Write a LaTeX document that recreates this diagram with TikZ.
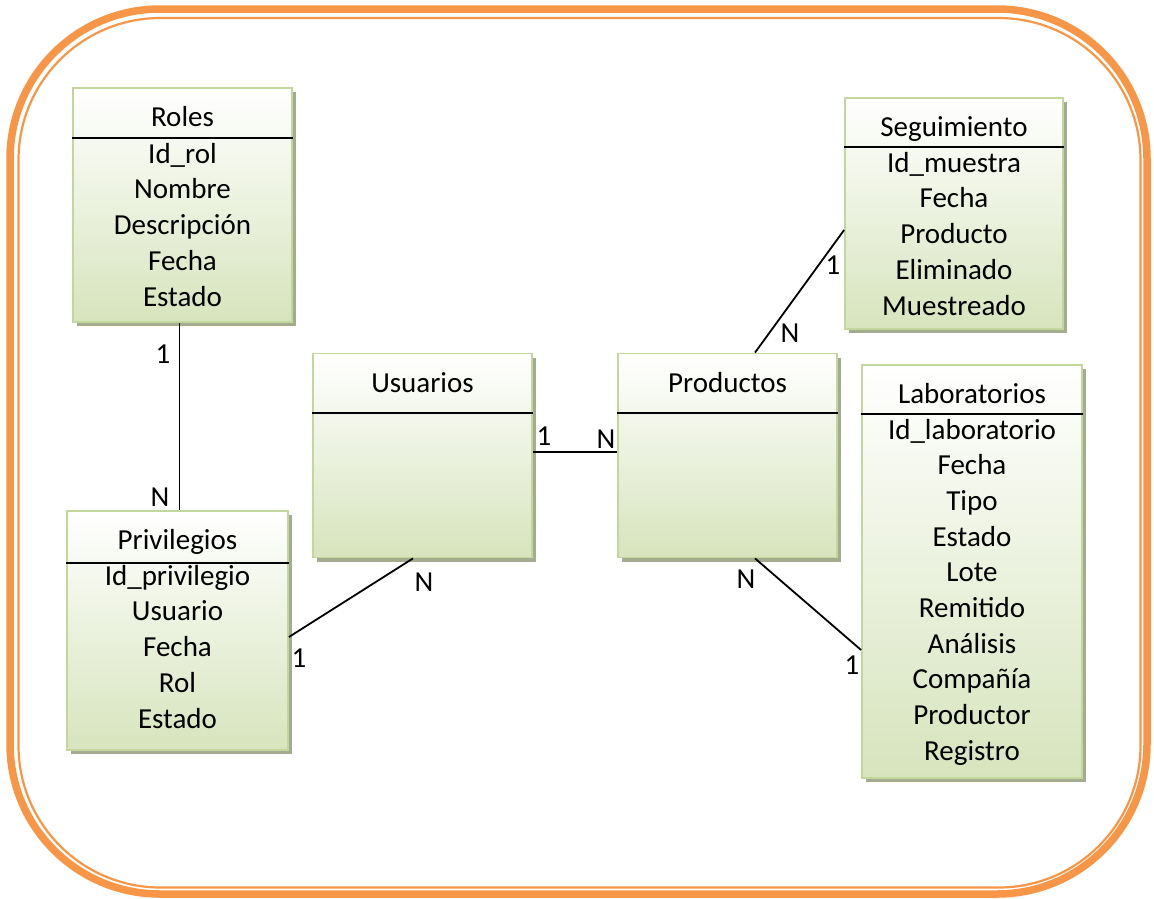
\documentclass[tikz,border=0pt]{standalone}
\usepackage{fontspec}
\setmainfont{Carlito}
\usetikzlibrary{shadows,calc}

\definecolor{frameorange}{HTML}{F79646}
\definecolor{entityedge}{HTML}{C3D69B}
\definecolor{entityfill}{HTML}{D7E4BD}
\definecolor{entityshadow}{HTML}{A3AC8E}

\tikzset{
  entity/.style={draw=entityedge, line width=1.8pt, top color=white,
    bottom color=entityfill, inner sep=0pt,
    drop shadow={shadow xshift=4pt, shadow yshift=-4pt, fill=entityshadow, opacity=1}},
  attr/.style={font=\fontsize{29}{35}\selectfont, anchor=base, inner sep=0pt},
  cardinality/.style={font=\fontsize{29}{35}\selectfont, inner sep=0pt},
  divider/.style={line width=1.9pt},
  rel/.style={line width=1.8pt},
  frameouter/.style={draw=frameorange, line width=7.5pt, rounded corners=150pt},
  frameinner/.style={draw=frameorange, line width=2.2pt, rounded corners=142pt}
}

\begin{document}
\begin{tikzpicture}[x=1pt, y=-1pt]
  \useasboundingbox (0,0) rectangle (1154,898);

  % double orange frame
  \draw[frameouter] (10,9) rectangle (1147,894);
  \draw[frameinner] (18.5,18) rectangle (1140.5,887.5);

  % entity boxes
  \node[entity, minimum width=219pt, minimum height=234pt] (roles) at (182.5,205) {};
  \node[entity, minimum width=218pt, minimum height=231pt] (seg)   at (954,213.5) {};
  \node[entity, minimum width=219pt, minimum height=204pt] (usu)   at (422.5,455.5) {};
  \node[entity, minimum width=219pt, minimum height=204pt] (prod)  at (727.5,455.5) {};
  \node[entity, minimum width=221pt, minimum height=239pt] (priv)  at (177.5,630.5) {};
  \node[entity, minimum width=220pt, minimum height=413pt] (lab)   at (972,571.5) {};

  % title dividers
  \draw[divider] (roles.west |- 0,138) -- (roles.east |- 0,138);
  \draw[divider] (seg.west |- 0,147) -- (seg.east |- 0,147);
  \draw[divider] (usu.west |- 0,413) -- (usu.east |- 0,413);
  \draw[divider] (prod.west |- 0,413) -- (prod.east |- 0,413);
  \draw[divider] (priv.west |- 0,563) -- (priv.east |- 0,563);
  \draw[divider] (lab.west |- 0,414) -- (lab.east |- 0,414);

  % titles
  \node[attr] (roles-title) at (182.5,126) {Roles};
  \node[attr] (seg-title)   at (954,136)   {Seguimiento};
  \node[attr] (usu-title)   at (422.5,392) {Usuarios};
  \node[attr] (prod-title)  at (727.5,392) {Productos};
  \node[attr] (priv-title)  at (177.5,549) {Privilegios};
  \node[attr] (lab-title)   at (972,403)   {Laboratorios};

  % attributes
  \foreach \t [count=\i] in {Id\_rol, Nombre, Descripción, Fecha, Estado}
    \node[attr] (roles-\i) at (182.5,{163+35.8*(\i-1)}) {\t};
  \foreach \t [count=\i] in {Id\_muestra, Fecha, Producto, Eliminado, Muestreado}
    \node[attr] (seg-\i) at (954,{172+35.8*(\i-1)}) {\t};
  \foreach \t [count=\i] in {Id\_privilegio, Usuario, Fecha, Rol, Estado}
    \node[attr] (priv-\i) at (177.5,{585+35.8*(\i-1)}) {\t};
  \foreach \t [count=\i] in {Id\_laboratorio, Fecha, Tipo, Estado, Lote, Remitido,
      Análisis, Compañía, Productor, Registro}
    \node[attr] (lab-\i) at (972,{439+35.7*(\i-1)}) {\t};

  % relationships
  \draw[rel] ([xshift=-3pt]roles.south) -- ([xshift=2pt]priv.north);
  \draw[rel] (usu.east |- 0,452) -- (prod.west |- 0,452);
  \draw[rel] ([xshift=-9.5pt]usu.south) -- ([yshift=-6.5pt]priv.east);
  \draw[rel] ([xshift=27.5pt]prod.north) -- ([yshift=-16.5pt]seg.west);
  \draw[rel] ([xshift=27.5pt]prod.south) -- ([yshift=-78.5pt]lab.west);

  % cardinalities
  \node[cardinality] (c-roles)  at (163,354) {1};
  \node[cardinality] (c-priv1)  at (160,497) {N};
  \node[cardinality] (c-usu1)   at (544,436) {1};
  \node[cardinality] (c-prod1)  at (606,439) {N};
  \node[cardinality] (c-usu2)   at (424,582) {N};
  \node[cardinality] (c-priv2)  at (299,658) {1};
  \node[cardinality] (c-prod2)  at (790,333) {N};
  \node[cardinality] (c-seg)    at (833,265) {1};
  \node[cardinality] (c-prod3)  at (746,579) {N};
  \node[cardinality] (c-lab)    at (852,665) {1};
\end{tikzpicture}
\end{document}
